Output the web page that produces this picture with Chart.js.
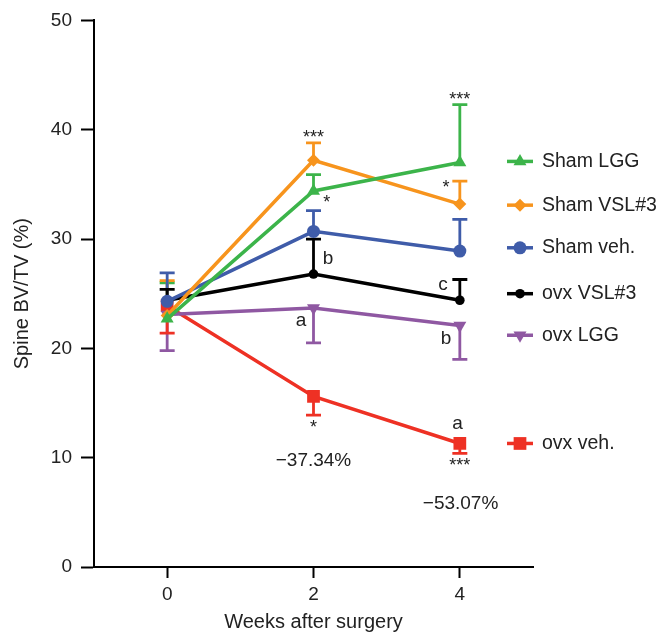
<!DOCTYPE html>
<html lang="en">
<head>
<meta charset="UTF-8">
<title>Spine BV/TV</title>
<script src="https://cdn.jsdelivr.net/npm/chart.js"></script>
<style>
  html, body { margin: 0; padding: 0; background: #fff; }
</style>
</head>
<body>
<canvas id="myChart" width="661" height="635"></canvas>
<script>
const weeks = [0, 2, 4];
const xTicks = [0, 2, 4];
const yTicks = [0, 10, 20, 30, 40, 50];

const groupNames = ['Sham LGG', 'Sham VSL#3', 'Sham veh.', 'ovx VSL#3', 'ovx LGG', 'ovx veh.'];
const shamLGG  = [22.7, 34.4, 37.0];
const shamVSL3 = [23.0, 37.2, 33.2];
const shamVeh  = [24.3, 30.7, 28.9];
const ovxVSL3  = [24.4, 26.8, 24.4];
const ovxLGG   = [23.1, 23.7, 22.1];
const ovxVeh   = [23.9, 15.6, 11.3];

// SEM; only one side is drawn (up for the top four groups, down for the last two)
const shamLGGErr  = [3.3, 1.5, 5.3];
const shamVSL3Err = [3.2, 1.6, 2.1];
const shamVehErr  = [2.6, 1.9, 2.9];
const ovxVSL3Err  = [1.0, 3.2, 1.9];
const ovxLGGErr   = [3.3, 3.2, 3.1];
const ovxVehErr   = [2.5, 1.7, 0.9];
const errSide = [1, 1, 1, 1, -1, -1];

// where each legend row sits, in y units
const legendAt = [37.1, 33.1, 29.2, 25.0, 21.2, 11.3];

// significance letters / stars and % change
const annText = ['***', '*', 'b', 'a', '*', '\u221237.34%', '***', '*', 'c', 'b', 'a', '***', '\u221253.07%'];
const annX    = [2,     2.18, 2.2, 1.83, 2,   2,             4,     3.81, 3.77, 3.81, 3.97, 4,    4.01];
const annY    = [39.6,  33.7, 28.2, 22.5, 13.1, 9.75,        43.1,  35.0, 25.8, 20.9, 13.1, 9.6,  5.74];

const FONT = '"Liberation Sans", Arial, Helvetica, sans-serif';
const colors = ['#3cb44a', '#f7941d', '#3f5ca9', '#000000', '#8f58a2', '#ee3124'];
const styles = ['triangle', 'rectRot', 'circle', 'circle', 'triangle', 'rect'];
const radii = [7.5, 6.5, 6.5, 4.8, 7.5, 9];
const rotations = [0, 0, 0, 0, 180, 0];

const series = [shamLGG, shamVSL3, shamVeh, ovxVSL3, ovxLGG, ovxVeh];
const errs = [shamLGGErr, shamVSL3Err, shamVehErr, ovxVSL3Err, ovxLGGErr, ovxVehErr];

const datasets = series.map((vals, i) => ({
  label: groupNames[i],
  data: weeks.map((w, j) => ({ x: w, y: vals[j] })),
  err: errs[i],
  errSide: errSide[i],
  borderColor: colors[i],
  backgroundColor: colors[i],
  borderWidth: 3.5,
  tension: 0,
  pointStyle: styles[i],
  pointRadius: radii[i],
  pointRotation: rotations[i],
  pointBorderWidth: 0,
  pointBackgroundColor: colors[i]
}));

const errorBars = {
  id: 'errorBars',
  beforeDatasetsDraw(chart) {
    const { ctx, scales: { x, y } } = chart;
    chart.data.datasets.forEach(ds => {
      ctx.save();
      ctx.strokeStyle = ds.borderColor;
      ctx.lineWidth = 2.8;
      ds.data.forEach((p, j) => {
        const px = x.getPixelForValue(p.x);
        const y0 = y.getPixelForValue(p.y);
        const y1 = y.getPixelForValue(p.y + ds.errSide * ds.err[j]);
        ctx.beginPath();
        ctx.moveTo(px, y0);
        ctx.lineTo(px, y1);
        ctx.moveTo(px - 7.5, y1);
        ctx.lineTo(px + 7.5, y1);
        ctx.stroke();
      });
      ctx.restore();
    });
  }
};

const notes = {
  id: 'notes',
  afterDatasetsDraw(chart) {
    const { ctx, scales: { x, y } } = chart;
    ctx.save();
    ctx.fillStyle = '#222';
    ctx.textAlign = 'center';
    ctx.textBaseline = 'middle';
    annText.forEach((t, i) => {
      const stars = t.indexOf('*') === 0;
      ctx.font = (stars ? 18 : 19) + 'px ' + FONT;
      ctx.fillText(t, x.getPixelForValue(annX[i]), y.getPixelForValue(annY[i]) + (stars ? 4 : 0));
    });
    ctx.restore();
  }
};

const sideLegend = {
  id: 'sideLegend',
  afterDraw(chart) {
    const { ctx, chartArea, scales: { y } } = chart;
    const x1 = chartArea.right - 26, x2 = chartArea.right, mx = chartArea.right - 13;
    chart.data.datasets.forEach((ds, i) => {
      const py = y.getPixelForValue(legendAt[i]);
      ctx.save();
      ctx.strokeStyle = ds.borderColor;
      ctx.fillStyle = ds.borderColor;
      ctx.lineWidth = 3.5;
      ctx.beginPath();
      ctx.moveTo(x1, py);
      ctx.lineTo(x2, py);
      ctx.stroke();
      Chart.helpers.drawPoint(ctx, {
        pointStyle: ds.pointStyle, radius: ds.pointRadius, rotation: ds.pointRotation, borderWidth: 0
      }, mx, py);
      ctx.fillStyle = '#222';
      ctx.font = '19.5px ' + FONT;
      ctx.textAlign = 'left';
      ctx.textBaseline = 'middle';
      ctx.fillText(ds.label, chartArea.right + 9, py);
      ctx.restore();
    });
  }
};

new Chart(document.getElementById('myChart'), {
  type: 'line',
  data: { datasets },
  options: {
    responsive: false,
    animation: false,
    layout: { padding: { top: 18, right: 128, left: 0, bottom: 0 } },
    plugins: { legend: { display: false }, tooltip: { enabled: false } },
    scales: {
      x: {
        type: 'linear', min: -1, max: 5,
        afterBuildTicks: s => { s.ticks = xTicks.map(v => ({ value: v })); },
        afterFit: s => { s.height = 68; },
        grid: { drawOnChartArea: false, drawTicks: true, tickLength: 11, tickWidth: 2, tickColor: '#000' },
        border: { color: '#000', width: 2 },
        ticks: { color: '#222', font: { size: 19, family: FONT }, padding: 5, maxRotation: 0 },
        title: { display: true, text: 'Weeks after surgery', color: '#222', font: { size: 20, family: FONT }, padding: { top: 0, bottom: 1 } }
      },
      y: {
        min: 0, max: 50,
        afterBuildTicks: s => { s.ticks = yTicks.map(v => ({ value: v })); },
        afterFit: s => { s.width = 94; },
        grid: { drawOnChartArea: false, drawTicks: true, tickLength: 13, tickWidth: 2, tickColor: '#000' },
        border: { color: '#000', width: 2 },
        ticks: { color: '#222', font: { size: 19, family: FONT }, padding: 9 },
        title: { display: true, text: 'Spine BV/TV (%)', color: '#222', font: { size: 20, family: FONT }, padding: { top: 10, bottom: 0 } }
      }
    }
  },
  plugins: [errorBars, notes, sideLegend]
});
</script>
</body>
</html>
